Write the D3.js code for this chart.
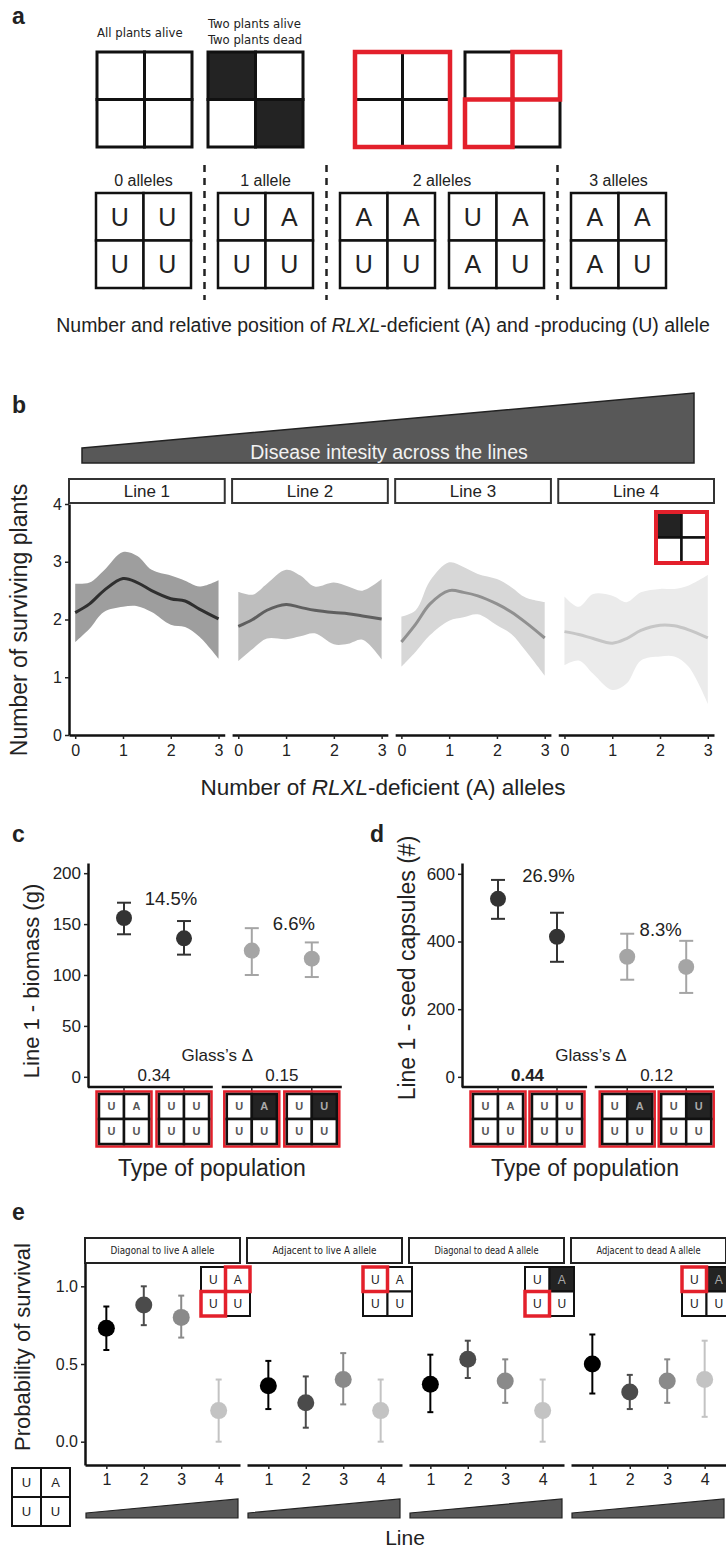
<!DOCTYPE html>
<html>
<head>
<meta charset="utf-8" />
<title></title>
<style>
  body { margin: 0; background: #fff; }
  svg text { font-family: "Liberation Sans", Arial, sans-serif; fill: #222; }
  .narrow { font-family: "Liberation Sans Narrow", "DejaVu Sans Condensed", "Liberation Sans", sans-serif !important; }
  .letter { font-weight: bold; font-size: 23px; }
</style>
</head>
<body>
<div id="chart"></div>
<script src="https://d3js.org/d3.v7.min.js"></script>
<script>
// ---------------- data ----------------
// panel a
var aStates = ["All plants alive", "Two plants alive", "Two plants dead"];
var aGroups = ["0 alleles", "1 allele", "2 alleles", "3 alleles"];
var aPatterns = [["U","U","U","U"], ["U","A","U","U"], ["A","A","U","U"], ["U","A","A","U"], ["A","A","A","U"]];
var aPatternGroup = [0, 1, 2, 2, 3];

// panel b
var bLines = ["Line 1", "Line 2", "Line 3", "Line 4"];
var bAlleles = [0, 0.3, 0.6, 1, 1.3, 1.6, 2, 2.3, 2.6, 3];
var bMean = [
    [2.12, 2.27, 2.50, 2.71, 2.64, 2.50, 2.36, 2.32, 2.18, 2.01],
    [1.88, 2.00, 2.16, 2.26, 2.21, 2.16, 2.12, 2.10, 2.06, 2.01],
    [1.61, 1.92, 2.27, 2.50, 2.47, 2.41, 2.27, 2.13, 1.95, 1.68],
    [1.79, 1.74, 1.67, 1.59, 1.67, 1.81, 1.90, 1.89, 1.82, 1.68]
];
var bUpper = [
    [2.62, 2.64, 2.85, 3.17, 3.10, 2.86, 2.76, 2.67, 2.57, 2.68],
    [2.48, 2.43, 2.62, 2.86, 2.76, 2.57, 2.64, 2.57, 2.50, 2.70],
    [2.05, 2.16, 2.67, 2.99, 2.91, 2.79, 2.70, 2.56, 2.38, 2.30],
    [2.40, 2.22, 2.44, 2.41, 2.30, 2.47, 2.53, 2.53, 2.59, 2.77]
];
var bLower = [
    [1.61, 1.84, 2.13, 2.22, 2.23, 2.13, 1.91, 1.87, 1.70, 1.32],
    [1.28, 1.49, 1.67, 1.66, 1.71, 1.76, 1.57, 1.58, 1.65, 1.31],
    [1.18, 1.44, 1.73, 1.98, 2.04, 2.09, 1.90, 1.75, 1.46, 1.03],
    [1.21, 1.29, 1.06, 0.78, 0.89, 1.29, 1.36, 1.36, 1.18, 0.54]
];
var bBandColors = ["#9e9e9e", "#bebebe", "#d7d7d7", "#ebebeb"];
var bLineColors = ["#2f2f2f", "#5f5f5f", "#909090", "#c6c6c6"];

// panels c and d
var popLetters = [["U","A","U","U"], ["U","U","U","U"], ["U","A","U","U"], ["U","U","U","U"]];
var popDead = [[], [], [1], [1]];
var cBiomass = [156, 136, 124, 116];
var cBiomassLo = [140, 120, 100, 98];
var cBiomassHi = [171, 153, 146, 132];
var cPercent = ["14.5%", "6.6%"];
var cGlass = ["0.34", "0.15"];
var dCapsules = [526, 414, 355, 325];
var dCapsulesLo = [467, 340, 287, 248];
var dCapsulesHi = [582, 485, 423, 402];
var dPercent = ["26.9%", "8.3%"];
var dGlass = ["0.44", "0.12"];

// panel e
var eFacets = ["Diagonal to live A allele", "Adjacent to live A allele", "Diagonal to dead A allele", "Adjacent to dead A allele"];
var eLines = [1, 2, 3, 4];
var eProb = [[0.73, 0.88, 0.80, 0.20], [0.36, 0.25, 0.40, 0.20], [0.37, 0.53, 0.39, 0.20], [0.50, 0.32, 0.39, 0.40]];
var eLo = [[0.59, 0.75, 0.67, 0.00], [0.21, 0.09, 0.24, 0.00], [0.19, 0.41, 0.25, 0.00], [0.31, 0.21, 0.25, 0.16]];
var eHi = [[0.87, 1.00, 0.94, 0.40], [0.52, 0.42, 0.57, 0.40], [0.56, 0.65, 0.53, 0.40], [0.69, 0.43, 0.53, 0.65]];
var eRedCells = [[1, 2], [0], [2], [0]];
var eDeadCells = [[], [], [1], [1]];
var eColors = ["#000000", "#4b4b4b", "#8a8a8a", "#c3c3c3"];

// ---------------- helpers ----------------
var red = "#e3202b";
var svg = d3.select("#chart").append("svg")
    .attr("width", 726)
    .attr("height", 1550);

// 2x2 plot diagram
function grid(parent, x, y, s, opt) {
    opt = opt || {};
    var letters = opt.letters || ["", "", "", ""];
    var dark = opt.dark || [];
    var redCells = opt.redCells || [];
    var sw = opt.sw || 3;
    var h = s / 2;
    var g = parent.append("g").attr("transform", "translate(" + x + "," + y + ")");
    if (opt.redRing) {
        g.append("rect").attr("x", -2.5).attr("y", -2.5).attr("width", s + 5).attr("height", s + 5)
            .attr("fill", "none").attr("stroke", red).attr("stroke-width", 2.5);
    }
    letters.forEach(function (t, i) {
        var cx = (i % 2) * h, cy = Math.floor(i / 2) * h;
        var isDark = dark.indexOf(i) >= 0;
        g.append("rect").attr("x", cx).attr("y", cy).attr("width", h).attr("height", h)
            .attr("fill", isDark ? "#232323" : "#fff")
            .attr("stroke", "#111").attr("stroke-width", sw);
        if (t) {
            g.append("text").attr("x", cx + h / 2).attr("y", cy + h / 2).attr("dy", "0.36em")
                .attr("text-anchor", "middle")
                .style("font-size", (opt.fs || 12) + "px")
                .style("font-weight", opt.bold ? "bold" : "normal")
                .style("fill", isDark ? "#aaa" : (opt.color || "#222"))
                .text(t);
        }
    });
    redCells.forEach(function (i) {
        var cx = (i % 2) * h, cy = Math.floor(i / 2) * h;
        g.append("rect").attr("x", cx).attr("y", cy).attr("width", h).attr("height", h)
            .attr("fill", "none").attr("stroke", red).attr("stroke-width", sw + 1.5);
    });
    if (opt.redOuter) {
        g.append("rect").attr("width", s).attr("height", s)
            .attr("fill", "none").attr("stroke", red).attr("stroke-width", sw + 1.5);
    }
    return g;
}

function styleAxis(g, fs) {
    g.attr("font-family", null).attr("font-size", null);
    g.selectAll("text").style("font-size", fs + "px").style("fill", "#222");
    g.selectAll(".tick line").attr("stroke", "#222").attr("stroke-width", 1.5);
    g.select(".domain").attr("stroke", "#111").attr("stroke-width", 2.5);
}

function panelLetter(t, x, y) {
    svg.append("text").attr("class", "letter").attr("x", x).attr("y", y).text(t);
}

var intFmt = d3.format("d");

// ---------------- panel a ----------------
panelLetter("a", 12, 24);
var aTop = svg.append("g");
aTop.append("text").attr("class", "narrow").attr("x", 97).attr("y", 37).style("font-size", "13px").text(aStates[0]);
aTop.append("text").attr("class", "narrow").attr("x", 208).attr("y", 28).style("font-size", "13px").text(aStates[1]);
aTop.append("text").attr("class", "narrow").attr("x", 208).attr("y", 44).style("font-size", "13px").text(aStates[2]);
grid(aTop, 97, 52, 95, {});
grid(aTop, 208, 52, 95, { dark: [0, 3] });
grid(aTop, 355, 52, 95, { redOuter: true });
grid(aTop, 465, 52, 95, { redCells: [1, 2] });

var aRow = svg.append("g");
var ax = 96, prevGroup = 0, groupStart = [96], groupEnd = [];
aPatterns.forEach(function (p, i) {
    var gi = aPatternGroup[i];
    if (i > 0 && gi !== prevGroup) {
        groupEnd.push(ax - 14);
        aRow.append("line").attr("x1", ax - 0.5).attr("x2", ax - 0.5)
            .attr("y1", 165).attr("y2", 300)
            .attr("stroke", "#222").attr("stroke-width", 2.5).attr("stroke-dasharray", "7,6");
        ax += 13;
        groupStart.push(ax);
    }
    grid(aRow, ax, 193, 95, { letters: p, fs: 25, sw: 2.5 });
    ax += 95 + 14;
    prevGroup = gi;
});
groupEnd.push(ax - 14);
aGroups.forEach(function (t, i) {
    aRow.append("text").attr("x", (groupStart[i] + groupEnd[i]) / 2).attr("y", 186)
        .attr("text-anchor", "middle").style("font-size", "16px").text(t);
});
var aTitle = aRow.append("text").attr("x", 383).attr("y", 332).attr("text-anchor", "middle").style("font-size", "19.5px");
aTitle.append("tspan").text("Number and relative position of ");
aTitle.append("tspan").style("font-style", "italic").text("RLXL");
aTitle.append("tspan").text("-deficient (A) and -producing (U) allele");

// ---------------- panel b ----------------
panelLetter("b", 12, 413);
var bg = svg.append("g");
bg.append("polygon").attr("points", "82,448 694,393 694,463 82,463")
    .attr("fill", "#585858").attr("stroke", "#222").attr("stroke-width", 1.5);
bg.append("text").attr("x", 389).attr("y", 459).attr("text-anchor", "middle")
    .style("font-size", "19.5px").style("fill", "#f2f2f2").text("Disease intesity across the lines");

var bFacet = d3.scaleBand().domain(bLines).range([69, 714]).paddingInner(0.045);
var bw = bFacet.bandwidth();
var xB = d3.scaleLinear().domain([-0.13, 3.13]).range([0, bw]);
var yB = d3.scaleLinear().domain([0, 4]).range([735, 504]);

var area = d3.area().curve(d3.curveCatmullRom.alpha(0.5))
    .x(function (d) { return xB(d.x); })
    .y0(function (d) { return yB(d.lo); })
    .y1(function (d) { return yB(d.hi); });
var line = d3.line().curve(d3.curveCatmullRom.alpha(0.5))
    .x(function (d) { return xB(d.x); })
    .y(function (d) { return yB(d.m); });

bLines.forEach(function (name, li) {
    var fg = bg.append("g").attr("transform", "translate(" + bFacet(name) + ",0)");
    var pts = bAlleles.map(function (a, k) {
        return { x: a, m: bMean[li][k], lo: bLower[li][k], hi: bUpper[li][k] };
    });
    fg.append("path").datum(pts).attr("d", area).attr("fill", bBandColors[li]);
    fg.append("path").datum(pts).attr("d", line).attr("fill", "none")
        .attr("stroke", bLineColors[li]).attr("stroke-width", 3);
    // strip
    fg.append("rect").attr("x", 0).attr("y", 479).attr("width", bw).attr("height", 24)
        .attr("fill", "#fff").attr("stroke", "#333").attr("stroke-width", 2);
    fg.append("text").attr("x", bw / 2).attr("y", 497).attr("text-anchor", "middle")
        .style("font-size", "17px").text(name);
    var xa = fg.append("g").attr("transform", "translate(0,735)")
        .call(d3.axisBottom(xB).tickValues([0, 1, 2, 3]).tickFormat(intFmt).tickSize(4).tickSizeOuter(0).tickPadding(6));
    styleAxis(xa, 16);
});
var ya = bg.append("g").attr("transform", "translate(" + bFacet(bLines[0]) + ",0)")
    .call(d3.axisLeft(yB).tickValues([0, 1, 2, 3, 4]).tickFormat(intFmt).tickSize(4).tickSizeOuter(0).tickPadding(3));
styleAxis(ya, 16);
grid(bg, bFacet(bLines[3]) + bw - 58, 512, 51, { dark: [0], redOuter: true, sw: 2.5 });
bg.append("text").attr("transform", "translate(27,620) rotate(-90)").attr("text-anchor", "middle")
    .style("font-size", "23px").text("Number of surviving plants");
var bTitle = bg.append("text").attr("x", 383).attr("y", 795).attr("text-anchor", "middle").style("font-size", "22.5px");
bTitle.append("tspan").text("Number of ");
bTitle.append("tspan").style("font-style", "italic").text("RLXL");
bTitle.append("tspan").text("-deficient (A) alleles");

// ---------------- panels c and d ----------------
function pointPanel(cfg) {
    var g = svg.append("g");
    var y = d3.scaleLinear().domain(cfg.yDomain).range([1087, 863]);
    var x = d3.scaleLinear().domain([0, 1]).range(cfg.xRange);
    var xpos = function (i) { return x(i + (i >= 2 ? cfg.shift : 0)); };
    var yaxis = g.append("g").attr("transform", "translate(" + cfg.axisX + ",0)")
        .call(d3.axisLeft(y).tickValues(cfg.ticks).tickSize(4).tickSizeOuter(0).tickPadding(3));
    styleAxis(yaxis, 17);
    cfg.segments.forEach(function (s) {
        g.append("line").attr("x1", x(s[0])).attr("x2", x(s[1])).attr("y1", 1087).attr("y2", 1087)
            .attr("stroke", "#111").attr("stroke-width", 2.5);
    });
    cfg.values.forEach(function (v, i) {
        var cx = xpos(i);
        var col = i < 2 ? "#333" : "#a5a5a5";
        g.append("line").attr("x1", cx).attr("x2", cx).attr("y1", 1087).attr("y2", 1091)
            .attr("stroke", "#222").attr("stroke-width", 1.5);
        g.append("line").attr("x1", cx).attr("x2", cx).attr("y1", y(cfg.lo[i])).attr("y2", y(cfg.hi[i]))
            .attr("stroke", col).attr("stroke-width", 2);
        [cfg.lo[i], cfg.hi[i]].forEach(function (e) {
            g.append("line").attr("x1", cx - 7).attr("x2", cx + 7).attr("y1", y(e)).attr("y2", y(e))
                .attr("stroke", col).attr("stroke-width", 2);
        });
        g.append("circle").attr("cx", cx).attr("cy", y(v)).attr("r", 8).attr("fill", col);
        grid(g, cx - 25, 1094, 50, { letters: popLetters[i], dark: popDead[i], redRing: true, sw: 2.5, fs: 11, bold: true, color: "#555" });
    });
    [0, 2].forEach(function (i, k) {
        var mid = (xpos(i) + xpos(i + 1)) / 2;
        g.append("text").attr("x", mid + cfg.pctDx[k]).attr("y", y(cfg.hi[i]) + 2).attr("text-anchor", "middle")
            .style("font-size", "18.5px").text(cfg.pct[k]);
        g.append("text").attr("x", mid).attr("y", 1081).attr("text-anchor", "middle")
            .style("font-size", "17px").style("font-weight", cfg.glassBold[k] ? "bold" : "normal").text(cfg.glass[k]);
    });
    var gx = (x(cfg.segments[0][1]) + x(cfg.segments[1][0])) / 2;
    g.append("text").attr("x", gx).attr("y", 1061).attr("text-anchor", "middle").style("font-size", "17px").text("Glass\u2019s \u0394");
    g.append("text").attr("transform", "translate(" + cfg.labelX + "," + cfg.labelY + ") rotate(-90)")
        .attr("text-anchor", "middle").style("font-size", cfg.labelSize + "px").text(cfg.yLabel);
    g.append("text").attr("x", (x(cfg.segments[0][0]) + x(cfg.segments[1][1])) / 2 - 3).attr("y", 1176)
        .attr("text-anchor", "middle").style("font-size", "23px").text("Type of population");
}

panelLetter("c", 12, 842);
pointPanel({
    yDomain: [-10, 210], ticks: [0, 50, 100, 150, 200], axisX: 88,
    xRange: [124, 184], shift: 0.13, segments: [[-0.6, 1.48], [1.63, 3.63]],
    values: cBiomass, lo: cBiomassLo, hi: cBiomassHi,
    pct: cPercent, pctDx: [17, 12], glass: cGlass, glassBold: [false, false],
    yLabel: "Line 1 - biomass (g)", labelX: 39, labelY: 981, labelSize: 22
});
panelLetter("d", 370, 842);
pointPanel({
    yDomain: [-30, 632], ticks: [0, 200, 400, 600], axisX: 462,
    xRange: [498, 557], shift: 0.19, segments: [[-0.61, 1.51], [1.64, 3.66]],
    values: dCapsules, lo: dCapsulesLo, hi: dCapsulesHi,
    pct: dPercent, pctDx: [21, 4], glass: dGlass, glassBold: [true, false],
    yLabel: "Line 1 - seed capsules (#)", labelX: 415, labelY: 968, labelSize: 23
});

// ---------------- panel e ----------------
panelLetter("e", 12, 1220);
var eg = svg.append("g");
var eFacet = d3.scaleBand().domain(eFacets).range([85, 726]).paddingInner(0.0432);
var ew = eFacet.bandwidth();
var xE = d3.scaleLinear().domain([0.43, 4.57]).range([0, ew]);
var yE = d3.scaleLinear().domain([-0.15, 1.15]).range([1465, 1263]);

eFacets.forEach(function (name, fi) {
    var fg = eg.append("g").attr("transform", "translate(" + eFacet(name) + ",0)");
    fg.append("rect").attr("x", 0).attr("y", 1238).attr("width", ew).attr("height", 25)
        .attr("fill", "#fff").attr("stroke", "#222").attr("stroke-width", 2);
    fg.append("text").attr("class", "narrow").attr("x", ew / 2).attr("y", 1254).attr("text-anchor", "middle")
        .attr("textLength", 104).attr("lengthAdjust", "spacingAndGlyphs")
        .style("font-size", "10.5px").text(name);
    var xa = fg.append("g").attr("transform", "translate(0,1465)")
        .call(d3.axisBottom(xE).tickValues(eLines).tickFormat(intFmt).tickSize(4).tickSizeOuter(0).tickPadding(5));
    styleAxis(xa, 16);
    eLines.forEach(function (l, k) {
        var cx = xE(l);
        fg.append("line").attr("x1", cx).attr("x2", cx).attr("y1", yE(eLo[fi][k])).attr("y2", yE(eHi[fi][k]))
            .attr("stroke", eColors[k]).attr("stroke-width", 2);
        [eLo[fi][k], eHi[fi][k]].forEach(function (e) {
            fg.append("line").attr("x1", cx - 3).attr("x2", cx + 3).attr("y1", yE(e)).attr("y2", yE(e))
                .attr("stroke", eColors[k]).attr("stroke-width", 2);
        });
        fg.append("circle").attr("cx", cx).attr("cy", yE(eProb[fi][k])).attr("r", 8.5).attr("fill", eColors[k]);
    });
    // the last inset sits at the page edge; pull it in just enough to keep its letters visible
    var insetX = fi === eFacets.length - 1 ? ew - 44 : ew - 39;
    grid(fg, insetX, 1267, 49, { letters: ["U", "A", "U", "U"], dark: eDeadCells[fi], redCells: eRedCells[fi], sw: 2, fs: 12 });
    fg.append("polygon")
        .attr("points", [[1, 1513], [ew - 2, 1499], [ew - 2, 1518], [1, 1518]].join(" "))
        .attr("fill", "#585858").attr("stroke", "#222").attr("stroke-width", 1.2);
});
var eya = eg.append("g").attr("transform", "translate(" + eFacet(eFacets[0]) + ",0)")
    .call(d3.axisLeft(yE).tickValues([0, 0.5, 1]).tickFormat(d3.format(".1f")).tickSize(4).tickSizeOuter(0).tickPadding(3));
styleAxis(eya, 16);
grid(eg, 12, 1468, 58, { letters: ["U", "A", "U", "U"], sw: 2, fs: 13 });
eg.append("text").attr("transform", "translate(30,1347) rotate(-90)").attr("text-anchor", "middle")
    .style("font-size", "22px").text("Probability of survival");
eg.append("text").attr("x", 405).attr("y", 1545).attr("text-anchor", "middle").style("font-size", "21px").text("Line");
</script>
</body>
</html>
